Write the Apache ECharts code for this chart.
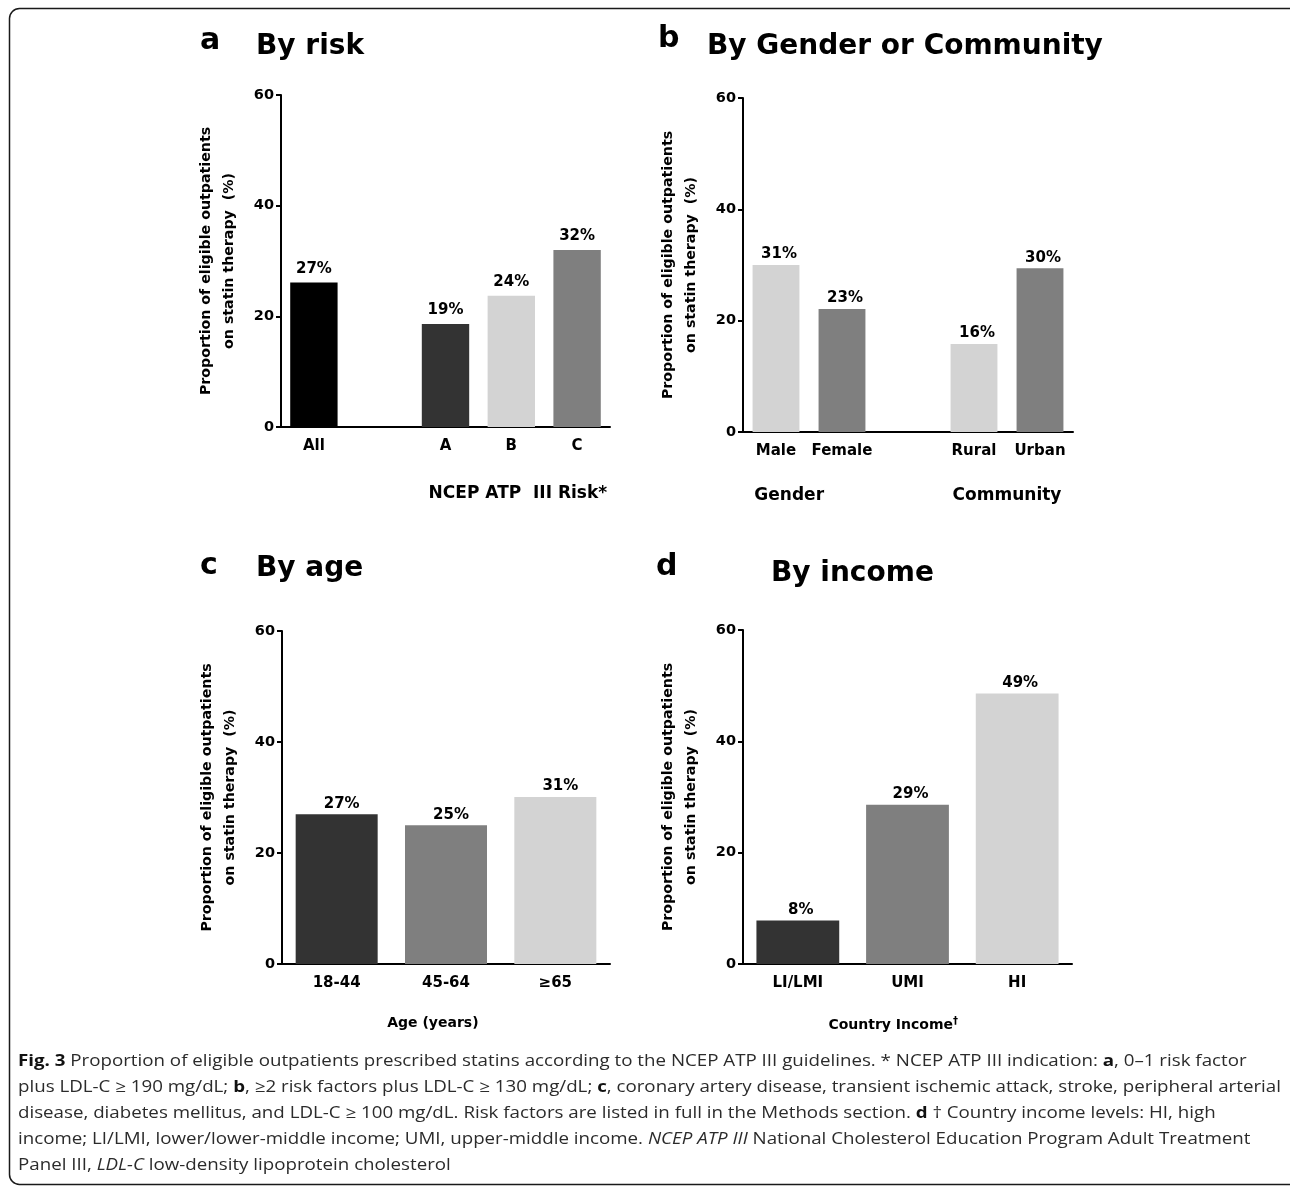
<!DOCTYPE html>
<html><head><meta charset="utf-8">
<script src="https://cdn.jsdelivr.net/npm/echarts@6/dist/echarts.min.js"></script>
<style>html,body{margin:0;padding:0;background:#fff}#c{width:1290px;height:1186px}</style>
</head><body><div id="c"></div><script>
// ---------- data ----------
const riskCategories = ['All', '', 'A', 'B', 'C'];
const riskValues = [26.1, '-', 18.6, 23.7, 32.0];
const riskLabels = ['27%', '', '19%', '24%', '32%'];
const riskGroups = ['NCEP ATP  III Risk*'];

const genderCategories = ['Male', 'Female', '', 'Rural', 'Urban'];
const genderValues = [30.0, 22.1, '-', 15.8, 29.4];
const genderLabels = ['31%', '23%', '', '16%', '30%'];
const genderGroups = ['Gender', 'Community'];

const ageCategories = ['18-44', '45-64', '≥65'];
const ageValues = [27.0, 25.0, 30.1];
const ageLabels = ['27%', '25%', '31%'];
const ageGroups = ['Age (years)'];

const incomeCategories = ['LI/LMI', 'UMI', 'HI'];
const incomeValues = [7.8, 28.6, 48.6];
const incomeLabels = ['8%', '29%', '49%'];
const incomeGroups = ['Country Income'];

const yMin = 0, yMax = 60, yStep = 20;
const yAxisTitle = 'Proportion of eligible outpatients\non statin therapy  (%)';

// ---------- styles ----------
const F = 'DejaVu Sans';
const BLACK = '#000000', DARK = '#333333', MID = '#7f7f7f', LIGHT = '#d3d3d3';
const riskColors = [BLACK, null, DARK, LIGHT, MID];
const genderColors = [LIGHT, MID, null, LIGHT, MID];
const ageColors = [DARK, MID, LIGHT];
const incomeColors = [DARK, MID, LIGHT];

const grids = [], xAxes = [], yAxes = [], series = [];

function panel(p) {
  const gi = grids.length;
  grids.push(p.grid);
  const xi = xAxes.length;
  xAxes.push({
    gridIndex: gi, type: 'category', data: p.cats,
    axisLine: {lineStyle: {color: '#000', width: 2}},
    axisTick: {show: false},
    axisLabel: {interval: 0, color: '#000', fontFamily: F, fontWeight: 'bold', fontSize: 15, margin: 12}
  });
  xAxes.push({
    gridIndex: gi, type: 'value', min: 0, max: p.cats.length, position: 'bottom', offset: p.groupOffset,
    axisLine: {show: false}, axisTick: {show: false}, splitLine: {show: false},
    axisLabel: {
      customValues: p.groupPos,
      formatter: v => { const k = p.groupPos.indexOf(v); return k >= 0 ? p.groupFmt(p.groups[k]) : ''; },
      color: '#000', fontFamily: F, fontWeight: 'bold', fontSize: p.groupSize, margin: 8,
      rich: p.rich || {}
    }
  });
  yAxes.push({
    gridIndex: gi, type: 'value', min: yMin, max: yMax, interval: yStep,
    axisLine: {show: true, lineStyle: {color: '#000', width: 2}},
    axisTick: {show: true, length: 5, lineStyle: {color: '#000', width: 2}},
    axisLabel: {color: '#000', fontFamily: F, fontWeight: 'bold', fontSize: 14.5, margin: 7},
    splitLine: {show: false},
    name: yAxisTitle, nameLocation: 'middle', nameRotate: 90, nameGap: 40,
    nameTextStyle: {color: '#000', fontFamily: F, fontWeight: 'bold', fontSize: 14.2, lineHeight: 23}
  });
  series.push({
    type: 'bar', xAxisIndex: xi, yAxisIndex: gi, barWidth: p.barWidth,
    data: p.vals.map((v, i) => ({value: v, itemStyle: {color: p.colors[i] || 'transparent'}})),
    label: {
      show: true, position: 'top', distance: p.labelDist, offset: p.labelOffset,
      formatter: q => p.labels[q.dataIndex],
      color: '#000', fontFamily: F, fontWeight: 'bold', fontSize: 15
    },
    silent: true, animation: false
  });
}

panel({grid: {left: 281, top: 95, width: 329, height: 332}, cats: riskCategories, vals: riskValues,
  labels: riskLabels, colors: riskColors, barWidth: '72%', labelDist: 6, labelOffset: [0, 0],
  groups: riskGroups, groupPos: [3.6], groupOffset: 50, groupSize: 17, groupFmt: s => s});
panel({grid: {left: 743, top: 98, width: 330, height: 334}, cats: genderCategories, vals: genderValues,
  labels: genderLabels, colors: genderColors, barWidth: '71%', labelDist: 3, labelOffset: [3, 0],
  groups: genderGroups, groupPos: [0.7, 4.0], groupOffset: 47, groupSize: 17, groupFmt: s => s});
panel({grid: {left: 282, top: 631, width: 328, height: 333}, cats: ageCategories, vals: ageValues,
  labels: ageLabels, colors: ageColors, barWidth: '75%', labelDist: 3, labelOffset: [5, 0],
  groups: ageGroups, groupPos: [1.38], groupOffset: 44, groupSize: 14, groupFmt: s => s});
panel({grid: {left: 743, top: 630, width: 329, height: 334}, cats: incomeCategories, vals: incomeValues,
  labels: incomeLabels, colors: incomeColors, barWidth: '75.5%', labelDist: 3, labelOffset: [3, 0],
  groups: incomeGroups, groupPos: [1.37], groupOffset: 44, groupSize: 14,
  groupFmt: s => '{a|' + s + '}{s|†}',
  rich: {a: {fontFamily: F, fontWeight: 'bold', fontSize: 14, color: '#000', lineHeight: 18},
         s: {fontFamily: F, fontWeight: 'bold', fontSize: 10, color: '#000', verticalAlign: 'top', lineHeight: 18}}});

// ---------- titles & caption ----------
const TT = {fontFamily: F, fontWeight: 'bold', fill: '#000'};
function t(x, y, text, size) {
  return {type: 'text', x, y, silent: true,
    style: Object.assign({text, fontSize: size, verticalAlign: 'bottom', align: 'left'}, TT)};
}
const CF = '"Open Sans"';
const captionText =
  '{b|Fig. 3} Proportion of eligible outpatients prescribed statins according to the NCEP ATP III guidelines. * NCEP ATP III indication: {b|a}, 0–1 risk factor\n' +
  'plus LDL-C ≥ 190 mg/dL; {b|b}, ≥2 risk factors plus LDL-C ≥ 130 mg/dL; {b|c}, coronary artery disease, transient ischemic attack, stroke, peripheral arterial\n' +
  'disease, diabetes mellitus, and LDL-C ≥ 100 mg/dL. Risk factors are listed in full in the Methods section. {b|d} † Country income levels: HI, high\n' +
  'income; LI/LMI, lower/lower-middle income; UMI, upper-middle income. {i|NCEP ATP III} National Cholesterol Education Program Adult Treatment\n' +
  'Panel III, {i|LDL-C} low-density lipoprotein cholesterol';

const graphic = [
  {type: 'rect', silent: true, shape: {x: 9.5, y: 8.5, width: 1300, height: 1176, r: 10},
   style: {fill: 'none', stroke: '#1a1a1a', lineWidth: 1.5}},
  t(200, 56, 'a', 30), t(256, 61, 'By risk', 28),
  t(658, 54, 'b', 30), t(707, 61, 'By Gender or Community', 28),
  t(200, 581, 'c', 30), t(256, 583, 'By age', 28),
  t(656, 582, 'd', 30), t(771, 588, 'By income', 28),
  {type: 'text', x: 18, y: 1048, scaleX: 1.17, silent: true,
   style: {text: captionText, fontFamily: CF, fontSize: 16, fill: '#2b2b2b', lineHeight: 26,
     verticalAlign: 'top', align: 'left',
     rich: {b: {fontFamily: CF, fontWeight: 'bold', fontSize: 16, fill: '#111', lineHeight: 26},
            i: {fontFamily: CF, fontStyle: 'italic', fontSize: 16, fill: '#2b2b2b', lineHeight: 26}}}}
];

const chart = echarts.init(document.getElementById('c'), null, {renderer: 'canvas'});
chart.setOption({
  animation: false,
  grid: grids, xAxis: xAxes, yAxis: yAxes, series: series, graphic: graphic
});
</script></body></html>
